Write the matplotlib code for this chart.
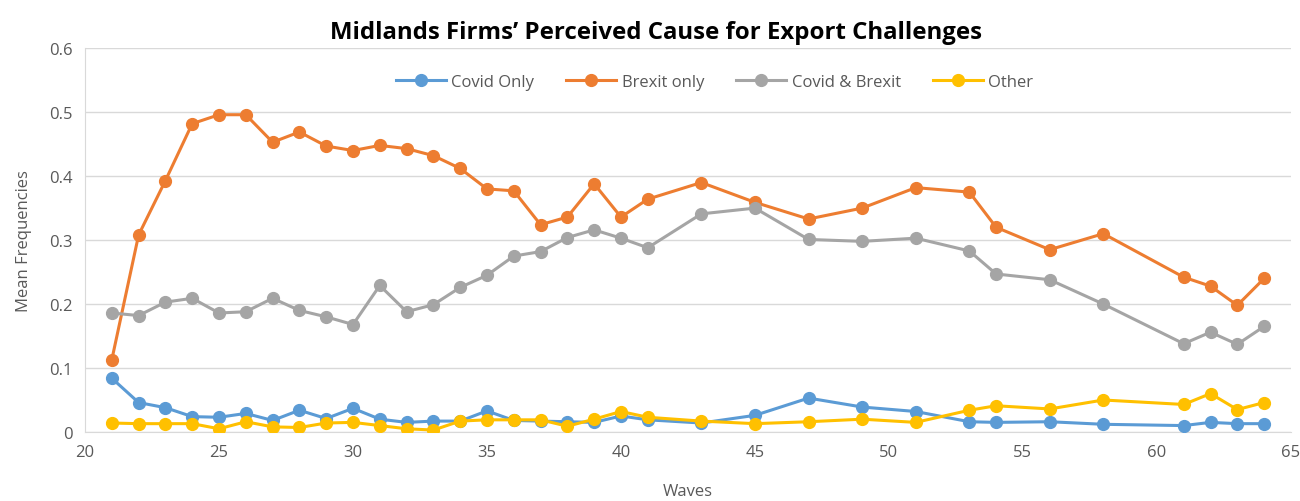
import matplotlib
matplotlib.use("Agg")
import matplotlib.pyplot as plt

waves = [21, 22, 23, 24, 25, 26, 27, 28, 29, 30, 31, 32, 33, 34, 35, 36, 37, 38, 39, 40, 41,
         43, 45, 47, 49, 51, 53, 54, 56, 58, 61, 62, 63, 64]

covid_only = [0.084, 0.046, 0.038, 0.024, 0.023, 0.029, 0.018, 0.034, 0.021, 0.037, 0.020, 0.015,
              0.017, 0.017, 0.033, 0.018, 0.017, 0.016, 0.015, 0.025, 0.019,
              0.014, 0.026, 0.053, 0.039, 0.032, 0.016, 0.015, 0.016, 0.012, 0.010, 0.015, 0.013, 0.013]

brexit_only = [0.113, 0.308, 0.393, 0.482, 0.496, 0.496, 0.453, 0.469, 0.447, 0.440, 0.448, 0.443,
               0.432, 0.412, 0.380, 0.377, 0.324, 0.336, 0.388, 0.336, 0.364,
               0.390, 0.359, 0.333, 0.350, 0.382, 0.375, 0.320, 0.285, 0.310, 0.242, 0.228, 0.198, 0.240]

covid_brexit = [0.186, 0.182, 0.203, 0.209, 0.186, 0.188, 0.209, 0.190, 0.180, 0.168, 0.229, 0.188,
                0.199, 0.226, 0.245, 0.275, 0.282, 0.304, 0.316, 0.303, 0.288,
                0.341, 0.350, 0.301, 0.298, 0.303, 0.283, 0.247, 0.238, 0.200, 0.138, 0.156, 0.137, 0.165]

other = [0.014, 0.013, 0.013, 0.013, 0.005, 0.016, 0.008, 0.007, 0.014, 0.015, 0.010, 0.005,
         0.003, 0.017, 0.019, 0.019, 0.019, 0.009, 0.020, 0.032, 0.023,
         0.017, 0.013, 0.016, 0.020, 0.015, 0.034, 0.041, 0.036, 0.050, 0.043, 0.060, 0.035, 0.046]

series_names = ["Covid Only", "Brexit only", "Covid & Brexit", "Other"]
colors = ["#5B9BD5", "#ED7D31", "#A5A5A5", "#FFC000"]

xticks = [20, 25, 30, 35, 40, 45, 50, 55, 60, 65]
yticks = [0, 0.1, 0.2, 0.3, 0.4, 0.5, 0.6]
ytick_labels = ["0", "0.1", "0.2", "0.3", "0.4", "0.5", "0.6"]

plt.rcParams['font.family'] = ['Open Sans', 'DejaVu Sans']

fig = plt.figure(figsize=(13, 5.02), dpi=100)
ax = fig.add_axes([0.0654, 0.1375, 0.9276, 0.7645])

for name, vals, c in zip(series_names, [covid_only, brexit_only, covid_brexit, other], colors):
    ax.plot(waves, vals, color=c, lw=2.2, marker='o', markersize=8.5, label=name, zorder=3)

ax.set_xlim(20, 65)
ax.set_ylim(0, 0.6)
ax.set_xticks(xticks)
ax.set_yticks(yticks)
ax.set_yticklabels(ytick_labels)
ax.grid(axis='y', color='#D9D9D9', lw=1)
ax.set_axisbelow(True)
for s in ['top', 'right']:
    ax.spines[s].set_visible(False)
ax.spines['left'].set_color('#D9D9D9')
ax.spines['bottom'].set_color('#D9D9D9')
ax.tick_params(length=0, labelsize=12, labelcolor='#595959', pad=9)

ax.set_xlabel("Waves", fontsize=12, color='#595959', labelpad=16)
ax.set_ylabel("Mean Frequencies", fontsize=12, color='#595959', labelpad=12)

fig.text(0.505, 0.935, "Midlands Firms\u2019 Perceived Cause for Export Challenges",
         ha='center', va='center', fontsize=17.3, fontweight='bold', color='black')

leg = ax.legend(loc='upper center', bbox_to_anchor=(0.522, 0.972), ncol=4, frameon=False,
                fontsize=12, handlelength=3, columnspacing=1.9, handletextpad=0.35)
for t in leg.get_texts():
    t.set_color('#595959')

fig.savefig("out.png", dpi=100)
